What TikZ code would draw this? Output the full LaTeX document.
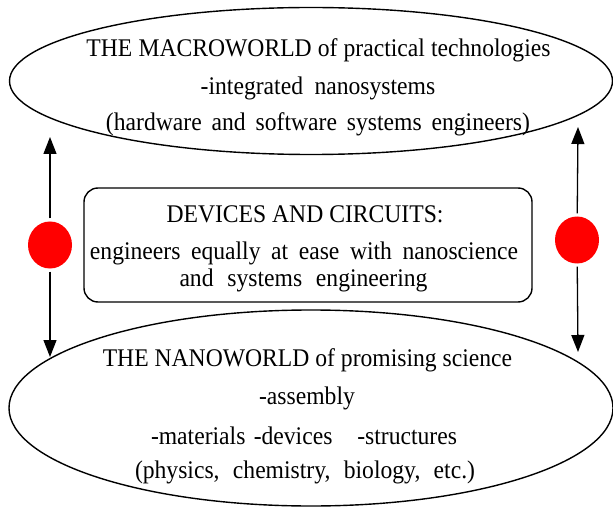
\documentclass[tikz,border=0pt]{standalone}
\usepackage{fontspec}
\setmainfont[FakeStretch=0.93]{Liberation Serif}
\usetikzlibrary{shapes.geometric,arrows.meta}
\newcommand{\wline}[2]{\makebox[#1bp][s]{#2}}
\begin{document}
\begin{tikzpicture}[x=1bp,y=-1bp,
  world/.style={ellipse, draw, line width=1.4bp, inner sep=0},
  txt/.style={font=\fontsize{25.5}{29}\selectfont, inner sep=0},
  reddot/.style={ellipse, fill=red, minimum width=44bp, minimum height=47bp, inner sep=0},
  arr/.style={line width=1.3bp, shorten <=3bp, -{Triangle[width=13bp,length=17bp]}}]
\useasboundingbox (0,0) rectangle (613,507);
% top ellipse
\node[world, minimum width=603bp, minimum height=147bp] (macro) at (311,81) {};
\node[txt] (m1) at (318.5,50) {\wline{464}{THE MACROWORLD of practical technologies}};
\node[txt] (m2) at (318,88) {-integrated\hspace{0.45em}nanosystems};
\node[txt] (m3) at (318,124) {\wline{424}{(hardware and software systems engineers)}};
% middle box
\node[draw, rounded corners=14bp, line width=1.4bp, minimum width=448bp, minimum height=114bp] (dev) at (308,245) {};
\node[txt] (d1) at (305,214) {DEVICES AND CIRCUITS:};
\node[txt] (d2) at (304,253) {\wline{428}{engineers equally at ease with nanoscience}};
\node[txt] (d3) at (303.5,280) {\wline{248}{and systems engineering}};
% bottom ellipse
\node[world, minimum width=604bp, minimum height=196bp] (nano) at (311,408) {};
\node[txt] (n1) at (307.5,360) {THE NANOWORLD of promising science};
\node[txt] (n2) at (307,398) {-assembly};
\node[txt] (n3) at (304,436) {\wline{306}{-materials -devices\ \ \ -structures}};
\node[txt] (n4) at (305,472) {\wline{340}{(physics, chemistry, biology, etc.)}};
% dots and arrows
\node[reddot] (ldot) at (50,245) {};
\node[reddot] (rdot) at (577,240) {};
\coordinate (lt) at (50,137);
\coordinate (lb) at (50,357);
\coordinate (rt) at (578,127);
\coordinate (rb) at (578,352);
\draw[arr] (ldot) -- (lt);
\draw[arr] (ldot) -- (lb);
\draw[arr] (rdot) -- (rt);
\draw[arr] (rdot) -- (rb);
\end{tikzpicture}
\end{document}
